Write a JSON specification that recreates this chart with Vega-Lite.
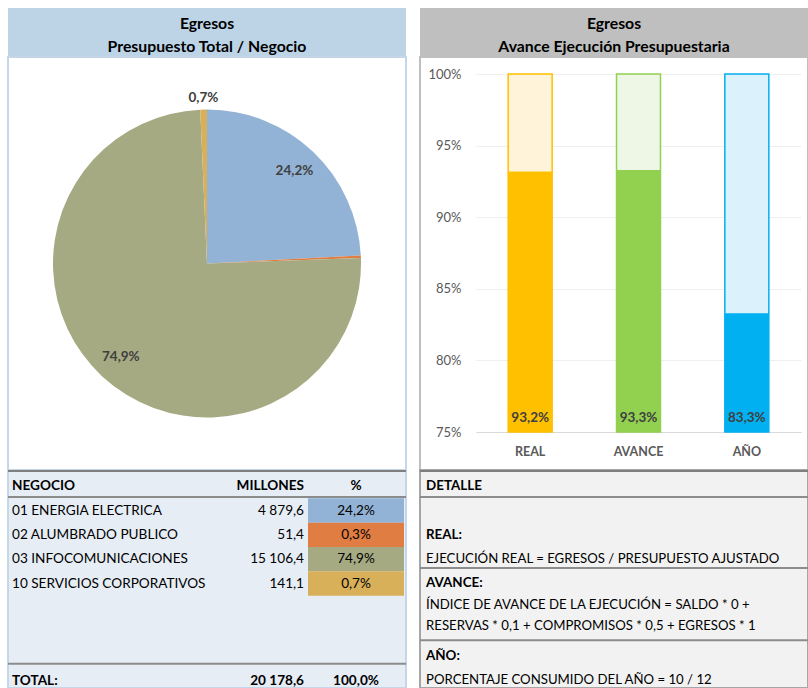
{
  "$schema": "https://vega.github.io/schema/vega-lite/v6.json",
  "padding": {"left": 6, "top": 8, "right": 0, "bottom": 0},
  "background": "white",
  "spacing": 10,
  "resolve": {"scale": {"color": "independent", "fill": "independent", "stroke": "independent"}},
  "config": {
    "locale": {"number": {"decimal": ",", "thousands": " ", "grouping": [3], "currency": ["", ""]}},
    "font": "Lato",
    "view": {"stroke": null},
    "text": {"font": "Lato"},
    "axis": {"labelFont": "Lato"}
  },
  "datasets": {
    "negocios": [
      {"row": 1, "negocio": "01 ENERGIA ELECTRICA", "millones": 4879.6, "pct": 0.242},
      {"row": 2, "negocio": "02 ALUMBRADO PUBLICO", "millones": 51.4, "pct": 0.003},
      {"row": 3, "negocio": "03 INFOCOMUNICACIONES", "millones": 15106.4, "pct": 0.749},
      {"row": 4, "negocio": "10 SERVICIOS CORPORATIVOS", "millones": 141.1, "pct": 0.007}
    ],
    "avance": [
      {"cat": "REAL", "value": 0.932},
      {"cat": "AVANCE", "value": 0.933},
      {"cat": "AÑO", "value": 0.833}
    ]
  },
  "hconcat": [
    {
      "spacing": 0,
      "bounds": "flush",
      "vconcat": [
        {
          "width": 398, "height": 49,
          "view": {"fill": "#BDD4E7", "stroke": null},
          "data": {"values": [{"t": "Egresos\nPresupuesto Total / Negocio"}]},
          "mark": {"type": "text", "lineBreak": "\n", "lineHeight": 23, "fontSize": 15.8, "fontWeight": "bold", "color": "#000000", "dy": -9},
          "encoding": {"text": {"field": "t", "type": "nominal"}}
        },
        {
          "width": 398, "height": 413,
          "view": {"fill": "white", "stroke": "#C5D6E8", "strokeWidth": 2},
          "data": {"name": "negocios"},
          "encoding": {
            "theta": {"field": "millones", "type": "quantitative", "stack": true},
            "order": {"field": "row", "type": "quantitative"}
          },
          "layer": [
            {
              "mark": {"type": "arc", "outerRadius": 154},
              "encoding": {
                "color": {"field": "negocio", "type": "nominal", "legend": null,
                  "scale": {"domain": ["01 ENERGIA ELECTRICA", "02 ALUMBRADO PUBLICO", "03 INFOCOMUNICACIONES", "10 SERVICIOS CORPORATIVOS"],
                            "range": ["#92B3D6", "#E07D42", "#A5AA82", "#D9B05A"]}}
              }
            },
            {
              "mark": {"type": "text", "radius": 127, "fontSize": 13.5, "fontWeight": "bold", "color": "#404040"},
              "encoding": {
                "text": {"field": "pct", "type": "quantitative", "format": ".1%"},
                "opacity": {"condition": {"test": "datum.pct > 0.05", "value": 1}, "value": 0}
              }
            },
            {
              "mark": {"type": "text", "radius": 166, "fontSize": 13.5, "fontWeight": "bold", "color": "#404040"},
              "encoding": {
                "text": {"field": "pct", "type": "quantitative", "format": ".1%"},
                "opacity": {"condition": {"test": "datum.pct > 0.005 && datum.pct < 0.05", "value": 1}, "value": 0}
              }
            }
          ]
        },
        {
          "width": 398, "height": 218,
          "view": {"fill": "#E6EDF5", "stroke": "#C5D6E8", "strokeWidth": 2},
          "layer": [
            {
              "data": {"name": "negocios"},
              "mark": {"type": "rect"},
              "encoding": {
                "y": {"field": "row", "type": "ordinal", "axis": null,
                  "scale": {"type": "band", "domain": [0, 1, 2, 3, 4, 5, 6, 7, 8], "range": [4, 223], "paddingInner": 0, "paddingOuter": 0}},
                "x": {"value": 300}, "x2": {"value": 396},
                "color": {"field": "negocio", "type": "nominal", "legend": null,
                  "scale": {"domain": ["01 ENERGIA ELECTRICA", "02 ALUMBRADO PUBLICO", "03 INFOCOMUNICACIONES", "10 SERVICIOS CORPORATIVOS"],
                            "range": ["#92B3D6", "#E07D42", "#A5AA82", "#D9B05A"]}}
              }
            },
            {
              "data": {"values": [{}]},
              "mark": {"type": "rule", "color": "#7F7F7F", "strokeWidth": 2},
              "encoding": {"y": {"datum": 0, "type": "ordinal", "bandPosition": -0.12}}
            },
            {
              "data": {"values": [{}]},
              "mark": {"type": "rule", "color": "#8C8C8C", "strokeWidth": 2},
              "encoding": {"y": {"datum": 1, "type": "ordinal", "bandPosition": -0.05}}
            },
            {
              "data": {"values": [{}]},
              "mark": {"type": "rule", "color": "#8C8C8C", "strokeWidth": 2},
              "encoding": {"y": {"datum": 7, "type": "ordinal", "bandPosition": 0.8}}
            },
            {
              "data": {"name": "negocios"},
              "mark": {"type": "text", "align": "left", "fontSize": 13.6, "color": "#000000"},
              "encoding": {"y": {"field": "row", "type": "ordinal"}, "x": {"value": 4}, "text": {"field": "negocio", "type": "nominal"}}
            },
            {
              "data": {"name": "negocios"},
              "mark": {"type": "text", "align": "right", "fontSize": 13.6, "color": "#000000"},
              "encoding": {"y": {"field": "row", "type": "ordinal"}, "x": {"value": 296}, "text": {"field": "millones", "type": "quantitative", "format": ",.1f"}}
            },
            {
              "data": {"name": "negocios"},
              "mark": {"type": "text", "align": "center", "fontSize": 13.6, "color": "#000000"},
              "encoding": {"y": {"field": "row", "type": "ordinal"}, "x": {"value": 348}, "text": {"field": "pct", "type": "quantitative", "format": ".1%"}}
            },
            {
              "data": {"values": [{"row": 0, "a": "NEGOCIO", "b": "MILLONES", "c": "%"}]},
              "layer": [
                {"mark": {"type": "text", "align": "left", "fontSize": 13.6, "fontWeight": "bold", "color": "#000000"},
                 "encoding": {"y": {"field": "row", "type": "ordinal"}, "x": {"value": 4}, "text": {"field": "a", "type": "nominal"}}},
                {"mark": {"type": "text", "align": "right", "fontSize": 13.6, "fontWeight": "bold", "color": "#000000"},
                 "encoding": {"y": {"field": "row", "type": "ordinal"}, "x": {"value": 296}, "text": {"field": "b", "type": "nominal"}}},
                {"mark": {"type": "text", "align": "center", "fontSize": 13.6, "fontWeight": "bold", "color": "#000000"},
                 "encoding": {"y": {"field": "row", "type": "ordinal"}, "x": {"value": 348}, "text": {"field": "c", "type": "nominal"}}}
              ]
            },
            {
              "data": {"values": [{"row": 8, "negocio": "TOTAL:", "millones": 20178.6, "pct": 1}]},
              "layer": [
                {"mark": {"type": "text", "align": "left", "fontSize": 13.6, "fontWeight": "bold", "color": "#000000"},
                 "encoding": {"y": {"field": "row", "type": "ordinal"}, "x": {"value": 4}, "text": {"field": "negocio", "type": "nominal"}}},
                {"mark": {"type": "text", "align": "right", "fontSize": 13.6, "fontWeight": "bold", "color": "#000000"},
                 "encoding": {"y": {"field": "row", "type": "ordinal"}, "x": {"value": 296}, "text": {"field": "millones", "type": "quantitative", "format": ",.1f"}}},
                {"mark": {"type": "text", "align": "center", "fontSize": 13.6, "fontWeight": "bold", "color": "#000000"},
                 "encoding": {"y": {"field": "row", "type": "ordinal"}, "x": {"value": 348}, "text": {"field": "pct", "type": "quantitative", "format": ".1%"}}}
              ]
            }
          ]
        }
      ]
    },
    {
      "spacing": 0,
      "bounds": "flush",
      "vconcat": [
        {
          "width": 388, "height": 49,
          "view": {"fill": "#BFBFBF", "stroke": null},
          "data": {"values": [{"t": "Egresos\nAvance Ejecución Presupuestaria"}]},
          "mark": {"type": "text", "lineBreak": "\n", "lineHeight": 23, "fontSize": 15.8, "fontWeight": "bold", "color": "#000000", "dy": -9},
          "encoding": {"text": {"field": "t", "type": "nominal"}}
        },
        {
          "width": 388, "height": 413,
          "view": {"fill": "white", "stroke": "#BFBFBF", "strokeWidth": 2},
          "data": {"name": "avance"},
          "encoding": {
            "x": {"field": "cat", "type": "nominal", "sort": null,
              "scale": {"type": "band", "range": [56, 381], "paddingInner": 0.594, "paddingOuter": 0.297},
              "axis": {"title": null, "orient": "bottom", "offset": -38, "domainColor": "#D9D9D9", "domainWidth": 1, "ticks": false,
                       "labelFontWeight": "bold", "labelFontSize": 12.5, "labelColor": "#595959", "labelPadding": 13, "labelAngle": 0, "grid": false}}
          },
          "layer": [
            {
              "mark": {"type": "bar", "strokeWidth": 1.5},
              "encoding": {
                "y": {"datum": 1, "type": "quantitative",
                  "scale": {"domain": [0.75, 1], "range": [375, 17], "nice": false, "zero": false},
                  "axis": {"title": null, "values": [0.75, 0.8, 0.85, 0.9, 0.95, 1], "format": ".0%", "offset": -41,
                           "domain": false, "ticks": false, "grid": true, "gridColor": "#EFEFEF", "gridWidth": 1,
                           "labelColor": "#595959", "labelFontSize": 13, "labelPadding": 0}},
                "y2": {"datum": 0.75},
                "fill": {"field": "cat", "type": "nominal", "legend": null,
                  "scale": {"domain": ["REAL", "AVANCE", "AÑO"], "range": ["#FFF4D9", "#EEF7E6", "#DBF1FB"]}},
                "stroke": {"field": "cat", "type": "nominal", "legend": null,
                  "scale": {"domain": ["REAL", "AVANCE", "AÑO"], "range": ["#FFC000", "#92D050", "#00B0F0"]}}
              }
            },
            {
              "mark": {"type": "bar"},
              "encoding": {
                "y": {"field": "value", "type": "quantitative"},
                "y2": {"datum": 0.75},
                "color": {"field": "cat", "type": "nominal", "legend": null,
                  "scale": {"domain": ["REAL", "AVANCE", "AÑO"], "range": ["#FFC000", "#92D050", "#00B0F0"]}}
              }
            },
            {
              "mark": {"type": "text", "dy": -14, "fontSize": 13.5, "fontWeight": "bold", "color": "#404040"},
              "encoding": {
                "y": {"datum": 0.75, "type": "quantitative"},
                "text": {"field": "value", "type": "quantitative", "format": ".1%"}
              }
            }
          ]
        },
        {
          "width": 388, "height": 218,
          "view": {"fill": "#F2F2F2", "stroke": "#A6A6A6", "strokeWidth": 2},
          "layer": [
            {
              "data": {"values": [{}]},
              "mark": {"type": "rule", "color": "#7F7F7F", "strokeWidth": 2},
              "encoding": {"y": {"datum": 0, "type": "ordinal", "bandPosition": -0.12, "axis": null,
                "scale": {"type": "band", "domain": [0, 1, 2, 3, 4, 5, 6, 7, 8], "range": [4, 222], "paddingInner": 0, "paddingOuter": 0}}}
            },
            {
              "data": {"values": [{}]},
              "mark": {"type": "rule", "color": "#8C8C8C", "strokeWidth": 2},
              "encoding": {"y": {"datum": 1, "type": "ordinal", "bandPosition": -0.05}}
            },
            {
              "data": {"values": [{}]},
              "mark": {"type": "rule", "color": "#8C8C8C", "strokeWidth": 2},
              "encoding": {"y": {"datum": 3, "type": "ordinal", "bandPosition": 0.88}}
            },
            {
              "data": {"values": [{}]},
              "mark": {"type": "rule", "color": "#8C8C8C", "strokeWidth": 2},
              "encoding": {"y": {"datum": 6, "type": "ordinal", "bandPosition": 0.86}}
            },
            {
              "data": {"values": [
                {"row": 0, "t": "DETALLE"},
                {"row": 2, "t": "REAL:"},
                {"row": 4, "t": "AVANCE:"},
                {"row": 7, "t": "AÑO:"}
              ]},
              "mark": {"type": "text", "align": "left", "fontSize": 13.4, "fontWeight": "bold", "color": "#000000"},
              "encoding": {"y": {"field": "row", "type": "ordinal"}, "x": {"value": 6}, "text": {"field": "t", "type": "nominal"}}
            },
            {
              "data": {"values": [
                {"row": 3, "t": "EJECUCIÓN REAL = EGRESOS / PRESUPUESTO AJUSTADO"},
                {"row": 8, "t": "PORCENTAJE CONSUMIDO DEL AÑO = 10 / 12"}
              ]},
              "mark": {"type": "text", "align": "left", "fontSize": 13.2, "color": "#000000"},
              "encoding": {"y": {"field": "row", "type": "ordinal"}, "x": {"value": 6}, "text": {"field": "t", "type": "nominal"}}
            },
            {
              "data": {"values": [
                {"row": 5, "t": "ÍNDICE DE AVANCE DE LA EJECUCIÓN = SALDO * 0 +\nRESERVAS * 0,1 + COMPROMISOS * 0,5 + EGRESOS * 1"}
              ]},
              "mark": {"type": "text", "align": "left", "fontSize": 13.2, "color": "#000000", "lineBreak": "\n", "lineHeight": 21},
              "encoding": {"y": {"field": "row", "type": "ordinal", "bandPosition": 0.41}, "x": {"value": 6}, "text": {"field": "t", "type": "nominal"}}
            }
          ]
        }
      ]
    }
  ]
}
